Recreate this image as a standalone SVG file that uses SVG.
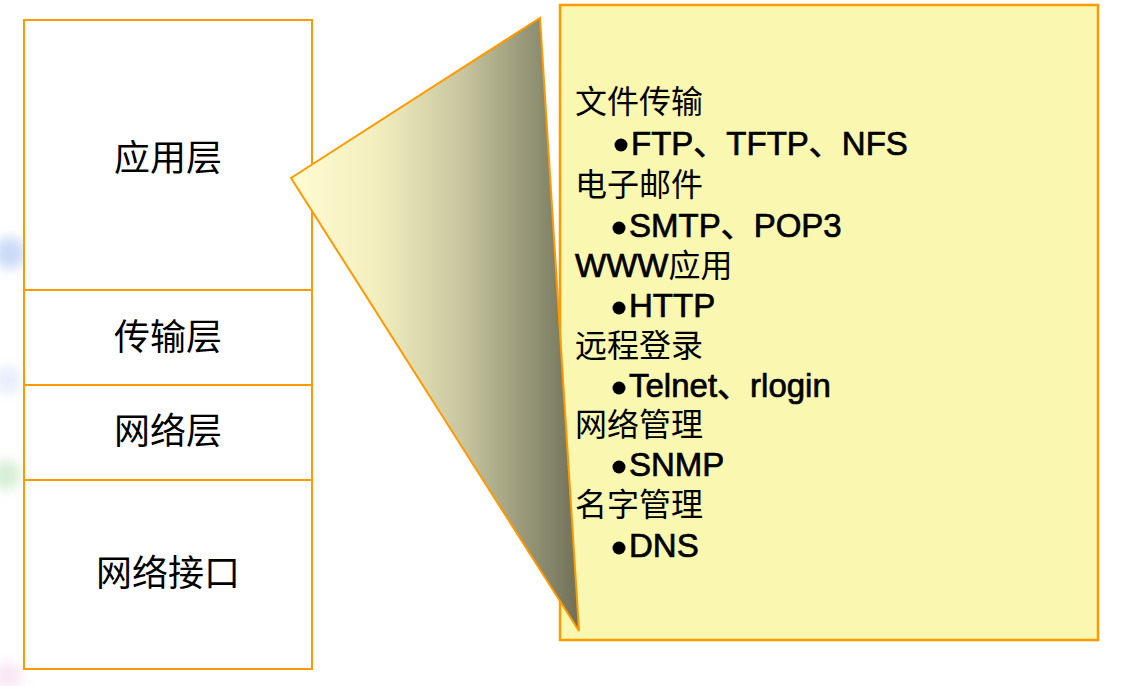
<svg xmlns="http://www.w3.org/2000/svg" width="1127" height="686" viewBox="0 0 1127 686">
  <defs>
    <linearGradient id="cone" x1="0" y1="0" x2="1" y2="0">
      <stop offset="0" stop-color="#FFFCD2"/>
      <stop offset="0.3" stop-color="#F2EEBE"/>
      <stop offset="0.6" stop-color="#C6C59E"/>
      <stop offset="1" stop-color="#6F7058"/>
    </linearGradient>
    <filter id="blur" x="-1" y="-1" width="3" height="3">
      <feGaussianBlur stdDeviation="6"/>
    </filter>
    <style>
      .layer { fill: #FFFFFF; stroke: #FF9900; stroke-width: 2; }
      .lbl { font-family: "Noto Sans CJK SC", sans-serif; font-size: 36px; fill: #000; text-anchor: middle; }
      .cjk { font-family: "Noto Sans CJK SC", sans-serif; font-size: 32px; fill: #000; }
      .lat { font-family: "Liberation Sans", Arial, "Noto Sans CJK SC", sans-serif; font-size: 33px; fill: #000; stroke: #000; stroke-width: 0.7; }
      .bul { fill: #000; }
    </style>
  </defs>

  <g id="background">
    <rect x="0" y="0" width="1127" height="686" fill="#FFFFFF"/>
    <circle cx="10" cy="253" r="16" fill="#C4D6F6" filter="url(#blur)" opacity="0.9"/>
    <circle cx="6" cy="475" r="15" fill="#D2EDD2" filter="url(#blur)" opacity="0.9"/>
    <circle cx="8" cy="380" r="14" fill="#E2EAFA" filter="url(#blur)" opacity="0.8"/>
    <circle cx="8" cy="676" r="14" fill="#F6E2F2" filter="url(#blur)" opacity="0.8"/>
  </g>

  <g id="stack">
    <g id="app-layer">
      <rect class="layer" x="24" y="20" width="288" height="270"/>
      <text class="lbl" x="168" y="171">应用层</text>
    </g>
    <g id="transport-layer">
      <rect class="layer" x="24" y="290" width="288" height="95"/>
      <text class="lbl" x="168" y="350">传输层</text>
    </g>
    <g id="network-layer">
      <rect class="layer" x="24" y="385" width="288" height="95"/>
      <text class="lbl" x="168" y="444">网络层</text>
    </g>
    <g id="link-layer">
      <rect class="layer" x="24" y="480" width="288" height="189"/>
      <text class="lbl" x="168" y="586">网络接口</text>
    </g>
  </g>

  <g id="detail">
    <rect x="560" y="5" width="538" height="635" fill="#FAF8B0" stroke="#FF9900" stroke-width="2.5"/>
    <text class="cjk" x="575" y="113">文件传输</text>
    <circle class="bul" cx="621" cy="145" r="6.5"/>
    <text class="lat" x="631" y="155">FTP、TFTP、NFS</text>
    <text class="cjk" x="575" y="196">电子邮件</text>
    <circle class="bul" cx="619" cy="228" r="6.5"/>
    <text class="lat" x="629" y="237">SMTP、POP3</text>
    <text class="lat" x="575" y="277">WWW<tspan class="cjk" stroke="none">应用</tspan></text>
    <circle class="bul" cx="619" cy="308" r="6.5"/>
    <text class="lat" x="629" y="317">HTTP</text>
    <text class="cjk" x="575" y="357">远程登录</text>
    <circle class="bul" cx="619" cy="388" r="6.5"/>
    <text class="lat" x="629" y="397">Telnet、rlogin</text>
    <text class="cjk" x="575" y="436">网络管理</text>
    <circle class="bul" cx="619" cy="467" r="6.5"/>
    <text class="lat" x="629" y="476">SNMP</text>
    <text class="cjk" x="575" y="516">名字管理</text>
    <circle class="bul" cx="619" cy="548" r="6.5"/>
    <text class="lat" x="629" y="557">DNS</text>
  </g>

  <g id="connectors">
    <polygon points="291,178 540,18 579,631" fill="url(#cone)" stroke="#FF9900" stroke-width="2" stroke-linejoin="miter"/>
  </g>
</svg>
